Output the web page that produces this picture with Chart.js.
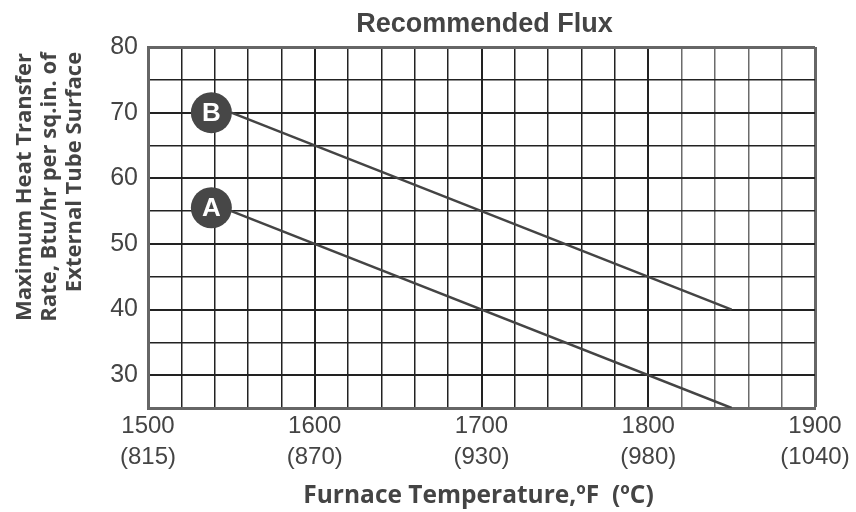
<!DOCTYPE html>
<html>
<head>
<meta charset="utf-8">
<script src="https://cdn.jsdelivr.net/npm/chart.js@4.4.1/dist/chart.umd.min.js"></script>
<style>
  html, body { margin: 0; padding: 0; background: #ffffff; }
  #wrap { width: 856px; height: 512px; position: relative; }
</style>
</head>
<body>
<div id="wrap"><canvas id="chart"></canvas></div>
<script>
// axis ranges and tick labels
const xMin = 1500;
const xMax = 1900;
const xGridStep = 20;
const yMin = 25;
const yMax = 80;
const yGridStep = 5;
const fahrenheitTicks = [1500, 1600, 1700, 1800, 1900];
const celsiusTicks = ["(815)", "(870)", "(930)", "(980)", "(1040)"];
const yTickLabels = [30, 40, 50, 60, 70, 80];

// curves
const lineATemps = [1550, 1850];
const lineAFlux = [55, 25];
const lineBTemps = [1550, 1850];
const lineBFlux = [70, 40];

// circled letters at the start of each curve
const markerLabels = ["B", "A"];
const markerTemps = [1538, 1538];
const markerFlux = [70, 55.5];

const chartTitle = "Recommended Flux";
const xTitle = "Furnace Temperature,\u00baF  (\u00baC)";
const yTitle = ["Maximum Heat Transfer", "Rate, Btu/hr per sq.in. of", "External Tube Surface"];

const inkColor = "#444444";
const gridDark = "#222222";
const frameColor = "#666666";

function toPoints(xs, ys) {
  return xs.map((x, i) => ({ x: x, y: ys[i] }));
}

function stepTicks(min, max, step) {
  const ticks = [];
  for (let v = min; v <= max + 1e-9; v += step) {
    ticks.push({ value: v });
  }
  return ticks;
}

const textPlugin = {
  id: "textPlugin",
  afterDatasetsDraw(chart) {
    const ctx = chart.ctx;
    const meta = chart.getDatasetMeta(0);
    ctx.save();
    ctx.fillStyle = "#ffffff";
    ctx.font = "bold 26px 'Liberation Sans', Arial, sans-serif";
    ctx.textAlign = "center";
    ctx.textBaseline = "middle";
    meta.data.forEach((pt, i) => {
      ctx.fillText(markerLabels[i], pt.x, pt.y + 1);
    });
    ctx.restore();
  },
  afterDraw(chart) {
    const ctx = chart.ctx;
    const area = chart.chartArea;
    const cx = (area.left + area.right) / 2;
    ctx.save();
    ctx.fillStyle = inkColor;
    ctx.textAlign = "center";
    ctx.textBaseline = "alphabetic";

    ctx.font = "bold 27px 'Liberation Sans', Arial, sans-serif";
    ctx.fillText(chartTitle, cx + 3, 32);

    ctx.font = "bold 24.5px 'Open Sans', sans-serif";
    ctx.fillText(xTitle, cx - 3, 503);

    ctx.font = "bold 22px 'Open Sans', sans-serif";
    const colX = [31, 56, 81];
    const colY = [187, 187, 172];
    yTitle.forEach((line, i) => {
      ctx.save();
      ctx.translate(colX[i], colY[i]);
      ctx.rotate(-Math.PI / 2);
      ctx.fillText(line, 0, 0);
      ctx.restore();
    });
    ctx.restore();
  }
};

new Chart(document.getElementById("chart"), {
  type: "scatter",
  data: {
    datasets: [
      {
        label: "markers",
        data: toPoints(markerTemps, markerFlux),
        pointRadius: 20.5,
        pointHoverRadius: 20.5,
        pointBackgroundColor: "#474747",
        pointBorderWidth: 0,
        showLine: false
      },
      {
        label: "B",
        data: toPoints(lineBTemps, lineBFlux),
        showLine: true,
        borderColor: inkColor,
        borderWidth: 2.5,
        pointRadius: 0,
        fill: false
      },
      {
        label: "A",
        data: toPoints(lineATemps, lineAFlux),
        showLine: true,
        borderColor: inkColor,
        borderWidth: 2.5,
        pointRadius: 0,
        fill: false
      }
    ]
  },
  options: {
    responsive: true,
    maintainAspectRatio: false,
    animation: false,
    layout: {
      padding: { left: 0, right: 41, top: 47, bottom: 0 }
    },
    plugins: {
      legend: { display: false },
      tooltip: { enabled: false },
      title: { display: false }
    },
    scales: {
      x: {
        type: "linear",
        min: xMin,
        max: xMax,
        afterBuildTicks: (scale) => {
          scale.ticks = stepTicks(xMin, xMax, xGridStep);
        },
        afterFit: (scale) => {
          scale.height = 104;
        },
        border: {
          color: frameColor,
          width: 3
        },
        grid: {
          drawTicks: false,
          color: (c) => {
            const v = c.tick ? c.tick.value : 0;
            if (v === xMin || v === xMax) return frameColor;
            if (v > 1800) return "#6b6b6b";
            return gridDark;
          },
          lineWidth: (c) => {
            const v = c.tick ? c.tick.value : 0;
            if (v === xMax) return 3;
            return v % 100 === 0 ? 2 : 1.5;
          }
        },
        ticks: {
          autoSkip: false,
          maxRotation: 0,
          padding: 3,
          color: inkColor,
          font: { family: "'Liberation Sans', Arial, sans-serif", size: 24, lineHeight: 1.3 },
          callback: (value) => {
            const idx = fahrenheitTicks.indexOf(value);
            return idx === -1 ? "" : [String(fahrenheitTicks[idx]), celsiusTicks[idx]];
          }
        }
      },
      y: {
        type: "linear",
        min: yMin,
        max: yMax,
        afterBuildTicks: (scale) => {
          scale.ticks = stepTicks(yMin, yMax, yGridStep);
        },
        afterFit: (scale) => {
          scale.width = 148;
        },
        border: {
          color: frameColor,
          width: 3
        },
        grid: {
          drawTicks: false,
          color: (c) => {
            const v = c.tick ? c.tick.value : 0;
            if (v === yMin || v === yMax) return frameColor;
            return gridDark;
          },
          lineWidth: (c) => {
            const v = c.tick ? c.tick.value : 0;
            if (v === yMax) return 3;
            return v % 10 === 0 ? 2 : 1.5;
          }
        },
        ticks: {
          autoSkip: false,
          padding: 10,
          color: inkColor,
          font: { family: "'Liberation Sans', Arial, sans-serif", size: 25 },
          callback: (value) => (yTickLabels.includes(value) ? String(value) : "")
        }
      }
    }
  },
  plugins: [textPlugin]
});
</script>
</body>
</html>
